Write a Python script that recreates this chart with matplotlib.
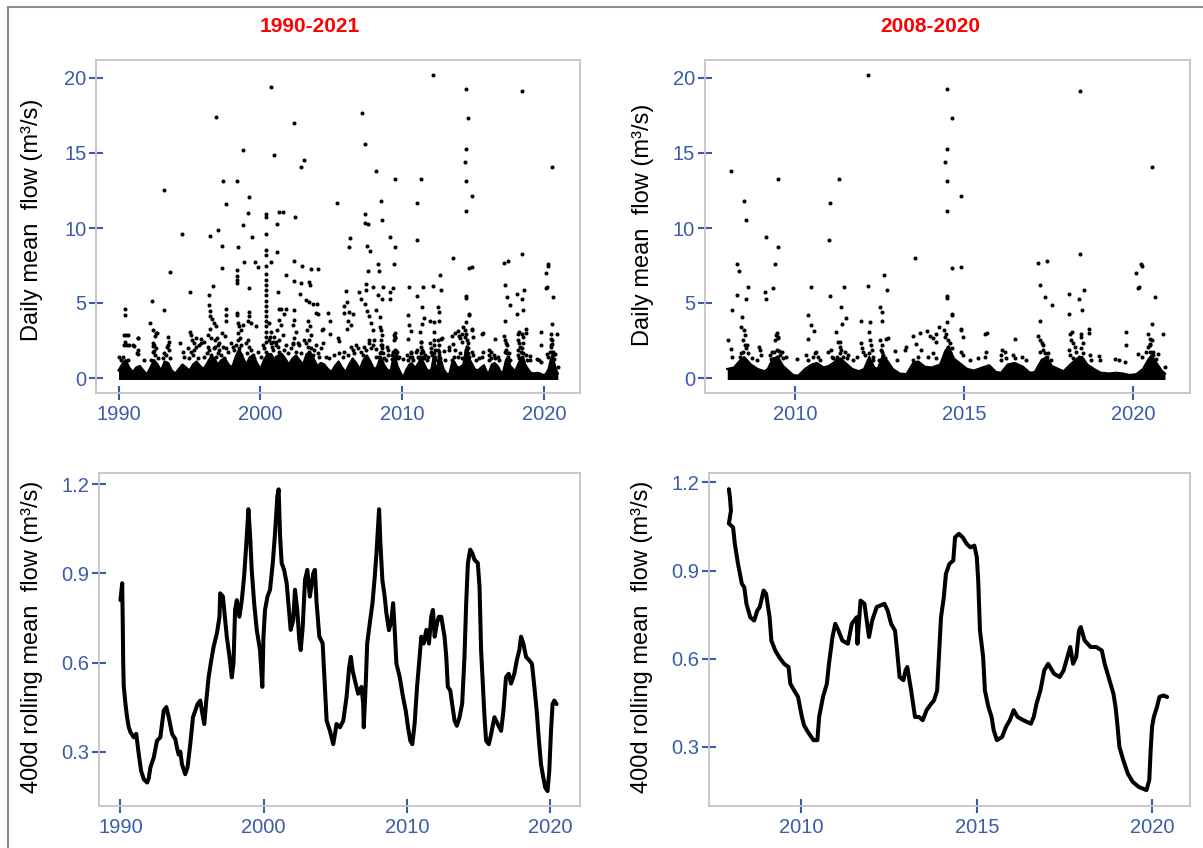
import matplotlib
matplotlib.use('Agg')
import matplotlib.pyplot as plt
from matplotlib.patches import Rectangle
import numpy as np

plt.rcParams['font.family'] = ['Liberation Sans', 'DejaVu Sans']

# ---- daily mean flow (decimal year, m3/s) ----
# dense seasonal band of low flows: upper edge
band = [
    (1990.0, 0.5), (1990.25, 0.9), (1990.5, 1.2), (1990.75, 0.7),
    (1991.0, 0.4), (1991.25, 0.7), (1991.5, 0.8), (1991.75, 0.5),
    (1992.0, 0.25), (1992.25, 0.7), (1992.5, 1.2), (1992.75, 0.9),
    (1993.0, 0.5), (1993.25, 1.1), (1993.5, 1.0), (1993.75, 0.5),
    (1994.0, 0.3), (1994.25, 0.6), (1994.5, 0.9), (1994.75, 0.7),
    (1995.0, 0.5), (1995.25, 0.9), (1995.5, 1.1), (1995.75, 0.8),
    (1996.0, 0.6), (1996.25, 1.0), (1996.5, 1.4), (1996.75, 1.3),
    (1997.0, 0.9), (1997.25, 1.2), (1997.5, 1.3), (1997.75, 0.9),
    (1998.0, 0.7), (1998.25, 1.4), (1998.5, 1.9), (1998.75, 1.4),
    (1999.0, 0.9), (1999.25, 1.4), (1999.5, 1.5), (1999.75, 1.0),
    (2000.0, 0.6), (2000.25, 1.2), (2000.5, 1.6), (2000.75, 1.6),
    (2001.0, 1.2), (2001.25, 1.5), (2001.5, 1.6), (2001.75, 1.3),
    (2002.0, 0.9), (2002.25, 1.3), (2002.5, 1.5), (2002.75, 1.2),
    (2003.0, 0.9), (2003.25, 1.6), (2003.5, 1.7), (2003.75, 1.3),
    (2004.0, 0.8), (2004.25, 1.0), (2004.5, 0.9), (2004.75, 0.6),
    (2005.0, 0.4), (2005.25, 0.8), (2005.5, 1.1), (2005.75, 0.7),
    (2006.0, 0.4), (2006.25, 0.9), (2006.5, 1.3), (2006.75, 1.0),
    (2007.0, 0.6), (2007.25, 1.2), (2007.5, 1.5), (2007.75, 1.1),
    (2008.0, 0.6), (2008.2, 0.7), (2008.35, 1.1), (2008.5, 1.4), (2008.7, 0.9),
    (2008.9, 0.6), (2009.1, 0.45), (2009.2, 0.6), (2009.35, 1.3), (2009.5, 1.4),
    (2009.65, 0.8), (2009.8, 0.5), (2009.95, 0.2), (2010.1, 0.15), (2010.3, 0.6),
    (2010.5, 0.9), (2010.65, 1.0), (2010.85, 0.7), (2011.0, 0.8), (2011.2, 1.1),
    (2011.35, 1.3), (2011.5, 1.0), (2011.7, 0.6), (2011.9, 0.45), (2012.05, 0.6),
    (2012.2, 1.4), (2012.35, 0.7), (2012.45, 0.6), (2012.6, 1.5), (2012.75, 1.1),
    (2012.9, 0.6), (2013.1, 0.3), (2013.3, 0.25), (2013.5, 1.0), (2013.65, 1.1),
    (2013.85, 0.75), (2014.05, 0.7), (2014.3, 0.9), (2014.45, 1.8), (2014.55, 2.1),
    (2014.7, 1.3), (2014.9, 0.95), (2015.1, 0.6), (2015.3, 0.5), (2015.55, 0.7),
    (2015.75, 0.85), (2015.95, 0.4), (2016.1, 0.35), (2016.3, 0.9), (2016.5, 1.0),
    (2016.75, 0.75), (2016.95, 0.35), (2017.1, 0.4), (2017.3, 1.2), (2017.45, 1.4),
    (2017.6, 0.8), (2017.8, 0.6), (2017.95, 0.45), (2018.15, 0.9), (2018.35, 1.3),
    (2018.5, 1.4), (2018.65, 0.9), (2018.85, 0.6), (2019.05, 0.35), (2019.3, 0.3),
    (2019.5, 0.35), (2019.7, 0.3), (2019.9, 0.2), (2020.1, 0.25), (2020.3, 0.6),
    (2020.45, 1.2), (2020.55, 1.5), (2020.7, 1.0), (2020.85, 0.5), (2020.95, 0.3),
]

# single days above the band, 1990-2007
early_pts = [
    (1990.45, 4.63), (1990.42, 4.17), (1990.35, 2.87), (1990.52, 2.87), (1990.64, 2.87),
    (1990.45, 2.42), (1990.4, 2.2), (1990.59, 2.2), (1990.28, 1.42), (1990.64, 1.2),
    (1990.05, 1.42), (1990.17, 1.2), (1990.75, 2.18), (1990.99, 2.18), (1991.11, 2.13),
    (1991.34, 1.87), (1991.29, 1.64), (1991.36, 1.6), (1991.4, 2.7), (1991.39, 2.64),
    (1991.81, 1.2),
    (1992.35, 5.16), (1992.2, 3.67), (1992.44, 3.2), (1992.63, 3.03), (1992.54, 2.8),
    (1992.44, 2.34), (1992.4, 2.11), (1992.5, 1.83), (1992.7, 2.98), (1992.52, 2.2),
    (1992.63, 1.98), (1992.4, 1.76), (1992.56, 1.53), (1992.75, 1.31), (1992.28, 1.2),
    (1993.18, 12.54), (1993.22, 4.54), (1993.59, 7.06), (1993.45, 2.75), (1993.57, 2.41),
    (1993.38, 2.06), (1993.5, 2.2), (1993.57, 1.87), (1993.34, 1.53), (1993.64, 1.31),
    (1993.22, 1.64), (1993.1, 1.31),
    (1994.45, 9.58), (1994.32, 2.36), (1994.51, 1.76), (1994.63, 1.42), (1994.86, 1.98),
    (1994.98, 1.31),
    (1995.06, 5.72), (1995.0, 3.1), (1995.1, 2.87), (1995.17, 2.52), (1995.45, 2.64),
    (1995.78, 2.57), (1995.68, 2.18), (1995.1, 1.76), (1995.33, 2.31), (1995.45, 2.09),
    (1995.33, 1.87), (1995.22, 1.53), (1995.57, 1.31), (1995.8, 2.31),
    (1996.34, 5.5), (1996.36, 4.85), (1996.42, 9.47), (1996.44, 4.47), (1996.44, 4.13),
    (1996.58, 3.94), (1996.74, 3.67), (1996.86, 3.44), (1996.67, 6.15), (1996.44, 3.3),
    (1996.3, 2.87), (1996.5, 2.64), (1996.88, 17.39), (1996.93, 2.64), (1997.05, 2.34),
    (1996.81, 2.06), (1996.04, 2.42), (1996.27, 2.09), (1996.39, 1.87), (1996.23, 1.64),
    (1996.51, 1.53), (1996.04, 1.42), (1996.63, 1.31), (1996.79, 2.53), (1997.03, 2.2),
    (1996.74, 1.98), (1997.1, 1.87), (1997.33, 2.09), (1996.98, 1.64), (1997.21, 1.53),
    (1997.4, 1.31), (1996.86, 1.42),
    (1997.04, 9.87), (1997.34, 13.1), (1997.28, 8.8), (1997.28, 7.3), (1997.58, 11.63),
    (1997.56, 4.63), (1997.56, 4.17), (1997.56, 3.78), (1997.28, 2.98), (1997.47, 2.8),
    (1997.57, 1.98), (1997.68, 1.76), (1997.92, 2.31),
    (1998.34, 13.1), (1998.42, 8.75), (1998.37, 7.2), (1998.37, 6.8), (1998.38, 6.5),
    (1998.37, 6.3), (1998.32, 4.36), (1998.32, 4.17), (1998.39, 3.67), (1998.5, 3.44),
    (1998.74, 3.56), (1998.62, 3.2), (1998.77, 15.21), (1998.79, 10.2), (1998.82, 7.75),
    (1998.04, 2.09), (1998.15, 1.87), (1998.27, 2.2), (1998.39, 1.64), (1998.51, 1.98),
    (1998.62, 1.53), (1998.44, 2.98), (1998.55, 2.64), (1998.39, 2.53), (1998.62, 2.2),
    (1998.97, 2.31),
    (1999.2, 12.05), (1999.15, 10.98), (1999.22, 6.0), (1999.16, 4.4), (1999.21, 4.13),
    (1999.09, 3.78), (1999.33, 3.67), (1999.41, 9.42), (1999.58, 7.75), (1999.85, 7.42),
    (1999.72, 3.49), (1999.09, 2.53), (1999.21, 2.09), (1999.33, 1.87), (1999.04, 1.64),
    (1999.44, 1.53), (1999.56, 1.31), (1999.8, 1.76),
    (2000.4, 10.9), (2000.4, 10.7), (2000.4, 9.6), (2000.4, 8.5), (2000.4, 8.2),
    (2000.4, 7.45), (2000.4, 6.9), (2000.4, 6.54), (2000.4, 6.19), (2000.4, 5.85),
    (2000.4, 5.5), (2000.4, 5.16), (2000.4, 4.82), (2000.4, 4.47), (2000.4, 4.13),
    (2000.4, 3.78), (2000.4, 3.44), (2000.4, 3.1), (2000.4, 2.75), (2000.4, 2.41),
    (2000.57, 3.67), (2000.74, 3.1), (2000.67, 2.75), (2000.85, 2.41), (2000.8, 2.06),
    (2000.15, 2.2), (2000.27, 1.98), (2000.38, 1.76), (2000.5, 1.53), (2000.03, 1.42),
    (2000.62, 2.53), (2000.74, 2.31), (2000.97, 2.76), (2001.09, 2.42), (2001.21, 2.09),
    (2000.85, 1.87), (2001.32, 1.76), (2001.44, 1.53), (2001.09, 1.42), (2001.68, 1.87),
    (2001.8, 2.2), (2001.91, 1.64),
    (2000.74, 19.4), (2000.95, 14.88), (2000.74, 7.75), (2001.17, 10.24), (2001.28, 11.05),
    (2001.6, 11.09), (2001.17, 8.42), (2001.2, 5.75), (2001.82, 6.86), (2001.28, 4.59),
    (2001.44, 4.59), (2001.79, 4.59), (2001.67, 4.24), (2001.32, 3.9), (2001.44, 3.56),
    (2001.13, 3.21), (2001.56, 2.87), (2001.32, 2.52), (2001.09, 2.18),
    (2002.36, 16.99), (2002.44, 10.76), (2002.36, 7.82), (2002.34, 6.45), (2002.38, 4.54),
    (2002.38, 3.9), (2002.26, 3.56), (2002.5, 3.1), (2002.38, 2.64), (2002.26, 2.29),
    (2002.15, 1.98), (2002.27, 2.31), (2002.5, 1.76), (2002.73, 2.2), (2002.85, 1.64),
    (2002.62, 2.31),
    (2002.78, 5.62), (2002.85, 6.31), (2002.87, 14.05), (2003.08, 14.5), (2002.95, 7.48),
    (2003.2, 5.23), (2003.44, 6.42), (2003.46, 6.19), (2003.44, 5.09), (2003.54, 7.24),
    (2003.67, 4.93), (2003.95, 4.93), (2003.9, 4.36), (2003.37, 3.78), (2003.52, 3.44),
    (2003.3, 3.21), (2003.58, 2.87), (2003.44, 2.52), (2003.09, 2.53), (2003.2, 2.31),
    (2003.32, 2.09), (2003.44, 1.76), (2003.56, 1.98), (2003.67, 1.53), (2003.79, 1.87),
    (2003.91, 2.2), (2004.03, 1.64),
    (2004.08, 7.24), (2004.03, 4.3), (2004.43, 3.3), (2004.37, 3.21), (2004.89, 2.94),
    (2004.73, 4.36), (2004.89, 3.78), (2004.14, 1.42), (2004.26, 1.98), (2004.38, 2.31),
    (2004.61, 1.42), (2004.85, 1.31),
    (2005.38, 11.65), (2005.43, 2.64), (2005.55, 2.48), (2005.2, 1.53), (2005.55, 1.64),
    (2005.79, 1.42), (2005.91, 1.76),
    (2006.03, 5.8), (2005.9, 4.82), (2005.9, 4.36), (2006.2, 3.78), (2006.13, 3.26),
    (2006.37, 3.56), (2006.49, 4.24), (2006.32, 9.31), (2006.24, 8.75), (2006.13, 5.08),
    (2006.27, 4.41), (2006.91, 5.73), (2007.08, 5.28), (2006.14, 1.53), (2006.38, 2.09),
    (2006.49, 1.87), (2006.61, 1.64), (2006.73, 2.2), (2006.85, 1.98), (2007.08, 1.76),
    (2007.2, 1.53), (2007.32, 2.09), (2007.43, 1.87), (2007.62, 2.31), (2007.79, 1.98),
    (2007.9, 2.2),
    (2007.16, 17.66), (2007.4, 15.59), (2007.4, 10.94), (2007.4, 10.31), (2007.58, 10.27),
    (2007.53, 8.8), (2007.75, 8.49), (2007.58, 7.15), (2007.43, 6.25), (2007.43, 5.85),
    (2007.38, 4.93), (2007.48, 4.47), (2007.62, 4.13), (2007.78, 3.67), (2007.9, 3.21),
    (2007.66, 2.52), (2007.9, 6.08),
]

# single days above the band, 2008-2020
late_pts = [
    (2008.12, 13.83), (2008.03, 2.52), (2008.15, 4.52), (2008.12, 1.96), (2008.3, 7.57),
    (2008.36, 7.13), (2008.29, 5.52), (2008.43, 4.08), (2008.42, 3.41), (2008.51, 11.8),
    (2008.54, 10.53), (2008.61, 6.08), (2008.56, 5.26), (2008.51, 3.18), (2008.53, 2.9),
    (2008.95, 2.07), (2008.15, 1.42), (2008.47, 2.53), (2008.52, 2.2), (2008.57, 2.2),
    (2008.47, 1.76), (2008.42, 1.64), (2008.37, 1.42), (2008.55, 1.98), (2008.62, 1.64),
    (2008.45, 1.2), (2008.72, 1.31), (2008.87, 1.2), (2009.01, 1.53), (2008.97, 1.85),
    (2009.14, 9.38), (2009.12, 5.75), (2009.14, 5.26), (2009.5, 13.27), (2009.49, 8.75),
    (2009.41, 7.57), (2009.36, 5.97), (2009.43, 2.85), (2009.49, 2.7), (2009.41, 2.52),
    (2009.48, 2.98), (2009.51, 2.76), (2009.28, 1.25), (2009.26, 1.53), (2009.31, 1.76),
    (2009.48, 1.9), (2009.54, 1.82), (2009.38, 1.76), (2009.61, 1.76), (2009.56, 1.53),
    (2009.46, 1.42), (2009.66, 1.31), (2009.73, 1.42),
    (2010.06, 1.29), (2010.38, 4.19), (2010.47, 6.04), (2010.48, 3.56), (2010.58, 3.12),
    (2010.39, 2.63), (2010.33, 1.53), (2010.4, 1.2), (2010.59, 1.64), (2010.62, 1.76),
    (2010.54, 1.42), (2010.69, 1.42), (2010.74, 1.2), (2010.99, 1.76),
    (2011.04, 11.69), (2011.02, 9.2), (2011.04, 5.46), (2011.22, 3.07), (2011.31, 13.27),
    (2011.37, 4.7), (2011.4, 3.63), (2011.44, 6.08), (2011.51, 4.03), (2011.34, 2.4),
    (2011.06, 1.9), (2011.09, 1.42), (2011.14, 1.31), (2011.28, 2.42), (2011.33, 2.09),
    (2011.38, 1.87), (2011.33, 1.64), (2011.43, 1.42), (2011.48, 1.76), (2011.53, 1.31),
    (2011.58, 1.53), (2011.25, 1.42), (2011.21, 1.2), (2011.73, 1.2), (2011.83, 1.42),
    (2011.97, 3.81), (2011.97, 2.31), (2012.0, 1.98), (2012.02, 1.76), (2012.07, 1.53),
    (2012.17, 20.22), (2012.17, 6.12), (2012.23, 3.74), (2012.2, 3.07), (2012.22, 2.53),
    (2012.24, 2.2), (2012.27, 1.9), (2012.2, 1.64), (2012.3, 1.42), (2012.32, 1.2),
    (2012.51, 4.74), (2012.59, 4.41), (2012.59, 3.81), (2012.65, 6.86), (2012.73, 5.86),
    (2012.71, 2.63), (2012.52, 2.53), (2012.57, 2.2), (2012.54, 1.87), (2012.59, 1.76),
    (2012.61, 1.53), (2012.66, 1.31), (2012.5, 1.2), (2012.76, 2.64), (2012.96, 1.8),
    (2013.01, 1.2),
    (2013.29, 2.07), (2013.26, 1.87), (2013.5, 2.78), (2013.56, 8.02), (2013.71, 3.0),
    (2013.92, 3.14), (2013.99, 2.78), (2013.58, 2.27), (2013.72, 1.87), (2013.65, 1.42),
    (2013.5, 1.2), (2013.94, 1.42), (2014.09, 1.64), (2014.17, 1.31), (2014.09, 2.69),
    (2014.19, 2.42),
    (2014.19, 2.92), (2014.27, 3.41), (2014.44, 14.39), (2014.5, 19.27), (2014.5, 15.28),
    (2014.5, 13.1), (2014.5, 11.14), (2014.5, 5.48), (2014.5, 5.35), (2014.51, 3.74),
    (2014.64, 17.33), (2014.66, 7.3), (2014.66, 4.19), (2014.66, 4.3), (2014.93, 12.14),
    (2014.93, 7.37), (2014.91, 3.3), (2014.93, 3.18), (2014.41, 3.18), (2014.47, 2.96),
    (2014.44, 2.76), (2014.54, 2.53), (2014.59, 2.31), (2014.54, 2.09), (2014.64, 1.98),
    (2014.49, 1.87), (2014.59, 1.64), (2014.66, 1.42), (2014.51, 1.42), (2014.96, 2.71),
    (2014.93, 1.76), (2014.98, 1.53),
    (2015.18, 1.2), (2015.42, 1.31), (2015.62, 2.96), (2015.67, 3.03), (2015.65, 1.76),
    (2015.62, 1.42),
    (2016.12, 1.85), (2016.09, 1.53), (2016.11, 1.2), (2016.21, 1.76), (2016.26, 1.31),
    (2016.46, 1.53), (2016.51, 1.31), (2016.52, 2.63), (2016.71, 1.42), (2016.83, 1.2),
    (2017.18, 7.64), (2017.45, 7.8), (2017.24, 6.19), (2017.39, 5.41), (2017.6, 4.86),
    (2017.26, 3.81), (2017.18, 2.78), (2017.26, 2.52), (2017.3, 2.36), (2017.35, 2.2),
    (2017.33, 1.9), (2017.25, 1.76), (2017.4, 1.64), (2017.45, 1.42), (2017.49, 1.69),
    (2017.59, 1.2),
    (2018.11, 5.57), (2018.11, 4.25), (2018.13, 2.96), (2018.19, 3.07), (2018.43, 19.11),
    (2018.45, 8.24), (2018.4, 5.26), (2018.54, 5.86), (2018.49, 4.52), (2018.46, 2.96),
    (2018.7, 3.3), (2018.7, 3.03), (2018.99, 1.47), (2018.12, 1.87), (2018.14, 1.53),
    (2018.16, 2.53), (2018.24, 2.31), (2018.28, 2.09), (2018.33, 1.76), (2018.41, 1.42),
    (2018.48, 2.76), (2018.51, 2.36), (2018.46, 1.98), (2018.53, 1.64), (2018.24, 1.31),
    (2018.73, 1.53), (2018.75, 1.2), (2019.02, 1.2),
    (2019.48, 1.29), (2019.59, 1.18), (2019.76, 1.07), (2019.8, 3.07), (2019.8, 2.18),
    (2020.1, 6.97), (2020.14, 5.97), (2020.18, 6.04), (2020.25, 7.57), (2020.27, 7.48),
    (2020.56, 14.05), (2020.56, 3.59), (2020.64, 5.37), (2020.44, 2.96), (2020.5, 2.63),
    (2020.88, 2.96), (2020.16, 1.63), (2020.27, 1.4), (2020.39, 1.74), (2020.44, 2.07),
    (2020.5, 2.18), (2020.52, 1.74), (2020.59, 1.74), (2020.61, 1.51), (2020.67, 1.29),
    (2020.73, 1.63), (2020.56, 2.52), (2020.52, 2.29), (2020.94, 0.73),
]

# ---- 400 day rolling mean (m3/s) ----
roll_long = [
    (1990.0, 0.81), (1990.12, 0.867), (1990.16, 0.73), (1990.19, 0.6), (1990.23, 0.52),
    (1990.35, 0.46), (1990.46, 0.416), (1990.58, 0.382), (1990.7, 0.365), (1990.93, 0.348),
    (1991.1, 0.36), (1991.28, 0.29), (1991.44, 0.235), (1991.63, 0.207), (1991.86, 0.196),
    (1991.97, 0.21), (1992.09, 0.247), (1992.32, 0.28), (1992.55, 0.337), (1992.78, 0.348),
    (1992.9, 0.393), (1993.02, 0.438), (1993.2, 0.45), (1993.37, 0.416), (1993.6, 0.36),
    (1993.83, 0.342), (1993.94, 0.314), (1994.06, 0.29), (1994.18, 0.3), (1994.29, 0.258),
    (1994.52, 0.224), (1994.68, 0.247), (1994.87, 0.325), (1995.06, 0.416), (1995.22, 0.438),
    (1995.38, 0.46), (1995.57, 0.472), (1995.68, 0.438), (1995.85, 0.393), (1995.99, 0.472),
    (1996.15, 0.55), (1996.31, 0.6), (1996.5, 0.653), (1996.73, 0.698), (1996.91, 0.754),
    (1996.96, 0.833), (1997.15, 0.822), (1997.24, 0.777), (1997.42, 0.687), (1997.61, 0.62),
    (1997.77, 0.55), (1997.89, 0.6), (1998.0, 0.777), (1998.12, 0.81), (1998.3, 0.754),
    (1998.47, 0.81), (1998.63, 0.89), (1998.77, 0.99), (1998.93, 1.116), (1999.05, 1.025),
    (1999.16, 0.912), (1999.33, 0.8), (1999.51, 0.71), (1999.74, 0.642), (1999.9, 0.518),
    (1999.98, 0.687), (2000.09, 0.777), (2000.26, 0.822), (2000.44, 0.845), (2000.63, 0.935),
    (2000.79, 1.036), (2000.95, 1.16), (2001.04, 1.183), (2001.14, 1.025), (2001.25, 0.935),
    (2001.42, 0.912), (2001.6, 0.867), (2001.72, 0.8), (2001.88, 0.71), (2002.06, 0.743),
    (2002.18, 0.845), (2002.34, 0.777), (2002.48, 0.676), (2002.58, 0.642), (2002.72, 0.72),
    (2002.88, 0.878), (2003.04, 0.912), (2003.22, 0.822), (2003.46, 0.901), (2003.57, 0.912),
    (2003.69, 0.8), (2003.88, 0.687), (2004.11, 0.665), (2004.27, 0.518), (2004.39, 0.404),
    (2004.62, 0.37), (2004.85, 0.325), (2004.97, 0.359), (2005.08, 0.393), (2005.32, 0.382),
    (2005.55, 0.404), (2005.78, 0.484), (2005.96, 0.584), (2006.08, 0.619), (2006.2, 0.574),
    (2006.36, 0.54), (2006.59, 0.495), (2006.82, 0.518), (2006.94, 0.462), (2006.98, 0.382),
    (2007.12, 0.529), (2007.22, 0.664), (2007.4, 0.732), (2007.59, 0.8), (2007.75, 0.89),
    (2007.87, 0.969), (2008.05, 1.116), (2008.14, 1.003), (2008.28, 0.878), (2008.44, 0.822),
    (2008.56, 0.766), (2008.74, 0.709), (2008.91, 0.743), (2009.03, 0.8), (2009.14, 0.71),
    (2009.26, 0.596), (2009.49, 0.551), (2009.72, 0.484), (2009.91, 0.438), (2010.07, 0.382),
    (2010.23, 0.337), (2010.37, 0.325), (2010.53, 0.393), (2010.7, 0.518), (2010.88, 0.619),
    (2011.0, 0.687), (2011.16, 0.664), (2011.35, 0.71), (2011.53, 0.664), (2011.69, 0.754),
    (2011.81, 0.777), (2011.93, 0.687), (2012.09, 0.732), (2012.22, 0.754), (2012.39, 0.754),
    (2012.62, 0.687), (2012.74, 0.619), (2012.85, 0.518), (2013.02, 0.506), (2013.15, 0.46),
    (2013.32, 0.404), (2013.48, 0.387), (2013.67, 0.416), (2013.85, 0.462), (2014.01, 0.619),
    (2014.13, 0.8), (2014.25, 0.935), (2014.41, 0.98), (2014.55, 0.969), (2014.71, 0.946),
    (2014.94, 0.935), (2015.06, 0.856), (2015.17, 0.642), (2015.29, 0.529), (2015.41, 0.416),
    (2015.52, 0.337), (2015.71, 0.325), (2015.87, 0.359), (2016.1, 0.416), (2016.33, 0.393),
    (2016.57, 0.37), (2016.73, 0.438), (2016.91, 0.551), (2017.1, 0.562), (2017.26, 0.529),
    (2017.49, 0.562), (2017.66, 0.607), (2017.84, 0.642), (2017.96, 0.687), (2018.12, 0.664),
    (2018.31, 0.619), (2018.54, 0.607), (2018.72, 0.596), (2018.89, 0.518), (2019.05, 0.438),
    (2019.19, 0.348), (2019.35, 0.258), (2019.51, 0.213), (2019.65, 0.179), (2019.81, 0.167),
    (2019.93, 0.235), (2020.05, 0.37), (2020.16, 0.46), (2020.28, 0.472), (2020.44, 0.46),
]

roll_short = [
    (2007.94, 1.177), (2007.97, 1.149), (2008.0, 1.104), (2007.94, 1.06), (2008.06, 1.047),
    (2008.11, 0.991), (2008.2, 0.923), (2008.31, 0.855), (2008.38, 0.843), (2008.44, 0.787),
    (2008.55, 0.741), (2008.66, 0.73), (2008.75, 0.764), (2008.82, 0.776), (2008.93, 0.832),
    (2009.0, 0.821), (2009.1, 0.741), (2009.15, 0.662), (2009.26, 0.628), (2009.37, 0.606),
    (2009.51, 0.583), (2009.64, 0.572), (2009.69, 0.515), (2009.8, 0.492), (2009.91, 0.47),
    (2010.02, 0.402), (2010.08, 0.374), (2010.19, 0.351), (2010.35, 0.323), (2010.46, 0.323),
    (2010.51, 0.402), (2010.62, 0.47), (2010.73, 0.515), (2010.79, 0.583), (2010.89, 0.674),
    (2010.97, 0.719), (2011.06, 0.696), (2011.17, 0.662), (2011.33, 0.651), (2011.44, 0.719),
    (2011.58, 0.741), (2011.6, 0.651), (2011.69, 0.798), (2011.8, 0.787), (2011.93, 0.674),
    (2012.02, 0.73), (2012.15, 0.776), (2012.37, 0.787), (2012.46, 0.764), (2012.56, 0.719),
    (2012.67, 0.696), (2012.72, 0.64), (2012.8, 0.538), (2012.91, 0.527), (2012.97, 0.56),
    (2013.02, 0.572), (2013.13, 0.492), (2013.24, 0.402), (2013.35, 0.402), (2013.46, 0.391),
    (2013.57, 0.425), (2013.7, 0.447), (2013.78, 0.458), (2013.87, 0.492), (2013.92, 0.606),
    (2013.98, 0.741), (2014.06, 0.809), (2014.12, 0.889), (2014.22, 0.923), (2014.33, 0.934),
    (2014.38, 1.013), (2014.49, 1.025), (2014.6, 1.013), (2014.71, 0.991), (2014.82, 0.979),
    (2014.93, 0.985), (2015.0, 0.945), (2015.04, 0.866), (2015.09, 0.696), (2015.18, 0.606),
    (2015.23, 0.492), (2015.33, 0.436), (2015.42, 0.402), (2015.48, 0.357), (2015.57, 0.323),
    (2015.72, 0.334), (2015.83, 0.368), (2015.94, 0.391), (2016.05, 0.425), (2016.16, 0.402),
    (2016.32, 0.391), (2016.54, 0.379), (2016.62, 0.402), (2016.7, 0.447), (2016.81, 0.492),
    (2016.92, 0.56), (2017.03, 0.583), (2017.2, 0.549), (2017.36, 0.538), (2017.47, 0.56),
    (2017.58, 0.606), (2017.66, 0.64), (2017.74, 0.583), (2017.83, 0.606), (2017.91, 0.696),
    (2017.96, 0.708), (2018.07, 0.662), (2018.24, 0.64), (2018.4, 0.64), (2018.56, 0.628),
    (2018.64, 0.583), (2018.78, 0.526), (2018.89, 0.481), (2018.95, 0.436), (2019.0, 0.379),
    (2019.06, 0.3), (2019.17, 0.255), (2019.3, 0.209), (2019.44, 0.181), (2019.61, 0.164),
    (2019.83, 0.153), (2019.91, 0.187), (2019.95, 0.289), (2019.99, 0.368), (2020.04, 0.402),
    (2020.13, 0.436), (2020.2, 0.47), (2020.31, 0.475), (2020.42, 0.47),
]

band_t, band_v = np.array(band).T
early_t, early_v = np.array(early_pts).T
late_t, late_v = np.array(late_pts).T
long_t, long_v = np.array(roll_long).T
short_t, short_v = np.array(roll_short).T

titles = ['1990-2021', '2008-2020']
flow_label = 'Daily mean  flow (m\u00b3/s)'
roll_label = '400d rolling mean  flow (m\u00b3/s)'

blue = '#3a5ca8'
W, H = 1203, 848

fig = plt.figure(figsize=(W / 100, H / 100), dpi=100)


def box(l, t, r, b):
    return [l / W, 1 - b / H, (r - l) / W, (b - t) / H]


def style(ax, xticks, yticks, ylabels):
    for s in ax.spines.values():
        s.set_color('#c4c4c4')
        s.set_linewidth(1.3)
    ax.set_xticks(xticks)
    ax.set_xticklabels([str(x) for x in xticks])
    ax.set_yticks(yticks)
    ax.set_yticklabels(ylabels)
    ax.tick_params(direction='inout', length=9.5, width=1.5, colors=blue, labelsize=14.5)
    ax.tick_params(axis='x', pad=4)
    ax.tick_params(axis='y', pad=2)


def flow_panel(ax, start):
    m = band_t >= start
    ax.fill_between(band_t[m], -0.1, band_v[m], color='black', lw=0)
    ax.plot(band_t[m], band_v[m], color='black', lw=1.6)
    for t, v in [(early_t, early_v), (late_t, late_v)]:
        k = t >= start
        ax.scatter(t[k], v[k], s=8.5, color='black', linewidths=0)


ax1 = fig.add_axes(box(95.7, 60, 579.8, 393))
flow_panel(ax1, 1990)
ax1.set_xlim(1988.39, 2022.5)
ax1.set_ylim(-1.0, 21.2)
style(ax1, [1990, 2000, 2010, 2020], [0, 5, 10, 15, 20], ['0', '5', '10', '15', '20'])

ax2 = fig.add_axes(box(704.6, 60, 1190, 393))
flow_panel(ax2, 2008)
ax2.set_xlim(2007.33, 2021.69)
ax2.set_ylim(-1.0, 21.2)
style(ax2, [2010, 2015, 2020], [0, 5, 10, 15, 20], ['0', '5', '10', '15', '20'])

ax3 = fig.add_axes(box(98.7, 473.3, 579.8, 806))
ax3.plot(long_t, long_v, color='black', lw=2.9, solid_capstyle='round')
ax3.set_xlim(1988.48, 2022.06)
ax3.set_ylim(0.117, 1.237)
style(ax3, [1990, 2000, 2010, 2020], [0.3, 0.6, 0.9, 1.2], ['0.3', '0.6', '0.9', '1.2'])

ax4 = fig.add_axes(box(708.5, 473.3, 1190, 806))
ax4.plot(short_t, short_v, color='black', lw=2.9, solid_capstyle='round')
ax4.set_xlim(2007.36, 2021.07)
ax4.set_ylim(0.099, 1.231)
style(ax4, [2010, 2015, 2020], [0.3, 0.6, 0.9, 1.2], ['0.3', '0.6', '0.9', '1.2'])

fig.text(310 / W, 1 - 27 / H, titles[0], color='red', fontweight='bold',
         fontsize=15, ha='center', va='center')
fig.text(930 / W, 1 - 27 / H, titles[1], color='red', fontweight='bold',
         fontsize=15, ha='center', va='center')

fig.text(32 / W, 1 - 220 / H, flow_label, rotation=90, fontsize=17, ha='center', va='center')
fig.text(643 / W, 1 - 225 / H, flow_label, rotation=90, fontsize=17, ha='center', va='center')
fig.text(32 / W, 1 - 637 / H, roll_label, rotation=90, fontsize=17, ha='center', va='center')
fig.text(642 / W, 1 - 637 / H, roll_label, rotation=90, fontsize=17, ha='center', va='center')

# frame of the screenshot (left and top edge visible)
fig.add_artist(Rectangle((7.5 / W, -0.05), 1.2, 1.05 - 7 / H, transform=fig.transFigure,
                         fill=False, edgecolor='#8c8c8c', lw=1.5))

fig.savefig('out.png', dpi=100)
